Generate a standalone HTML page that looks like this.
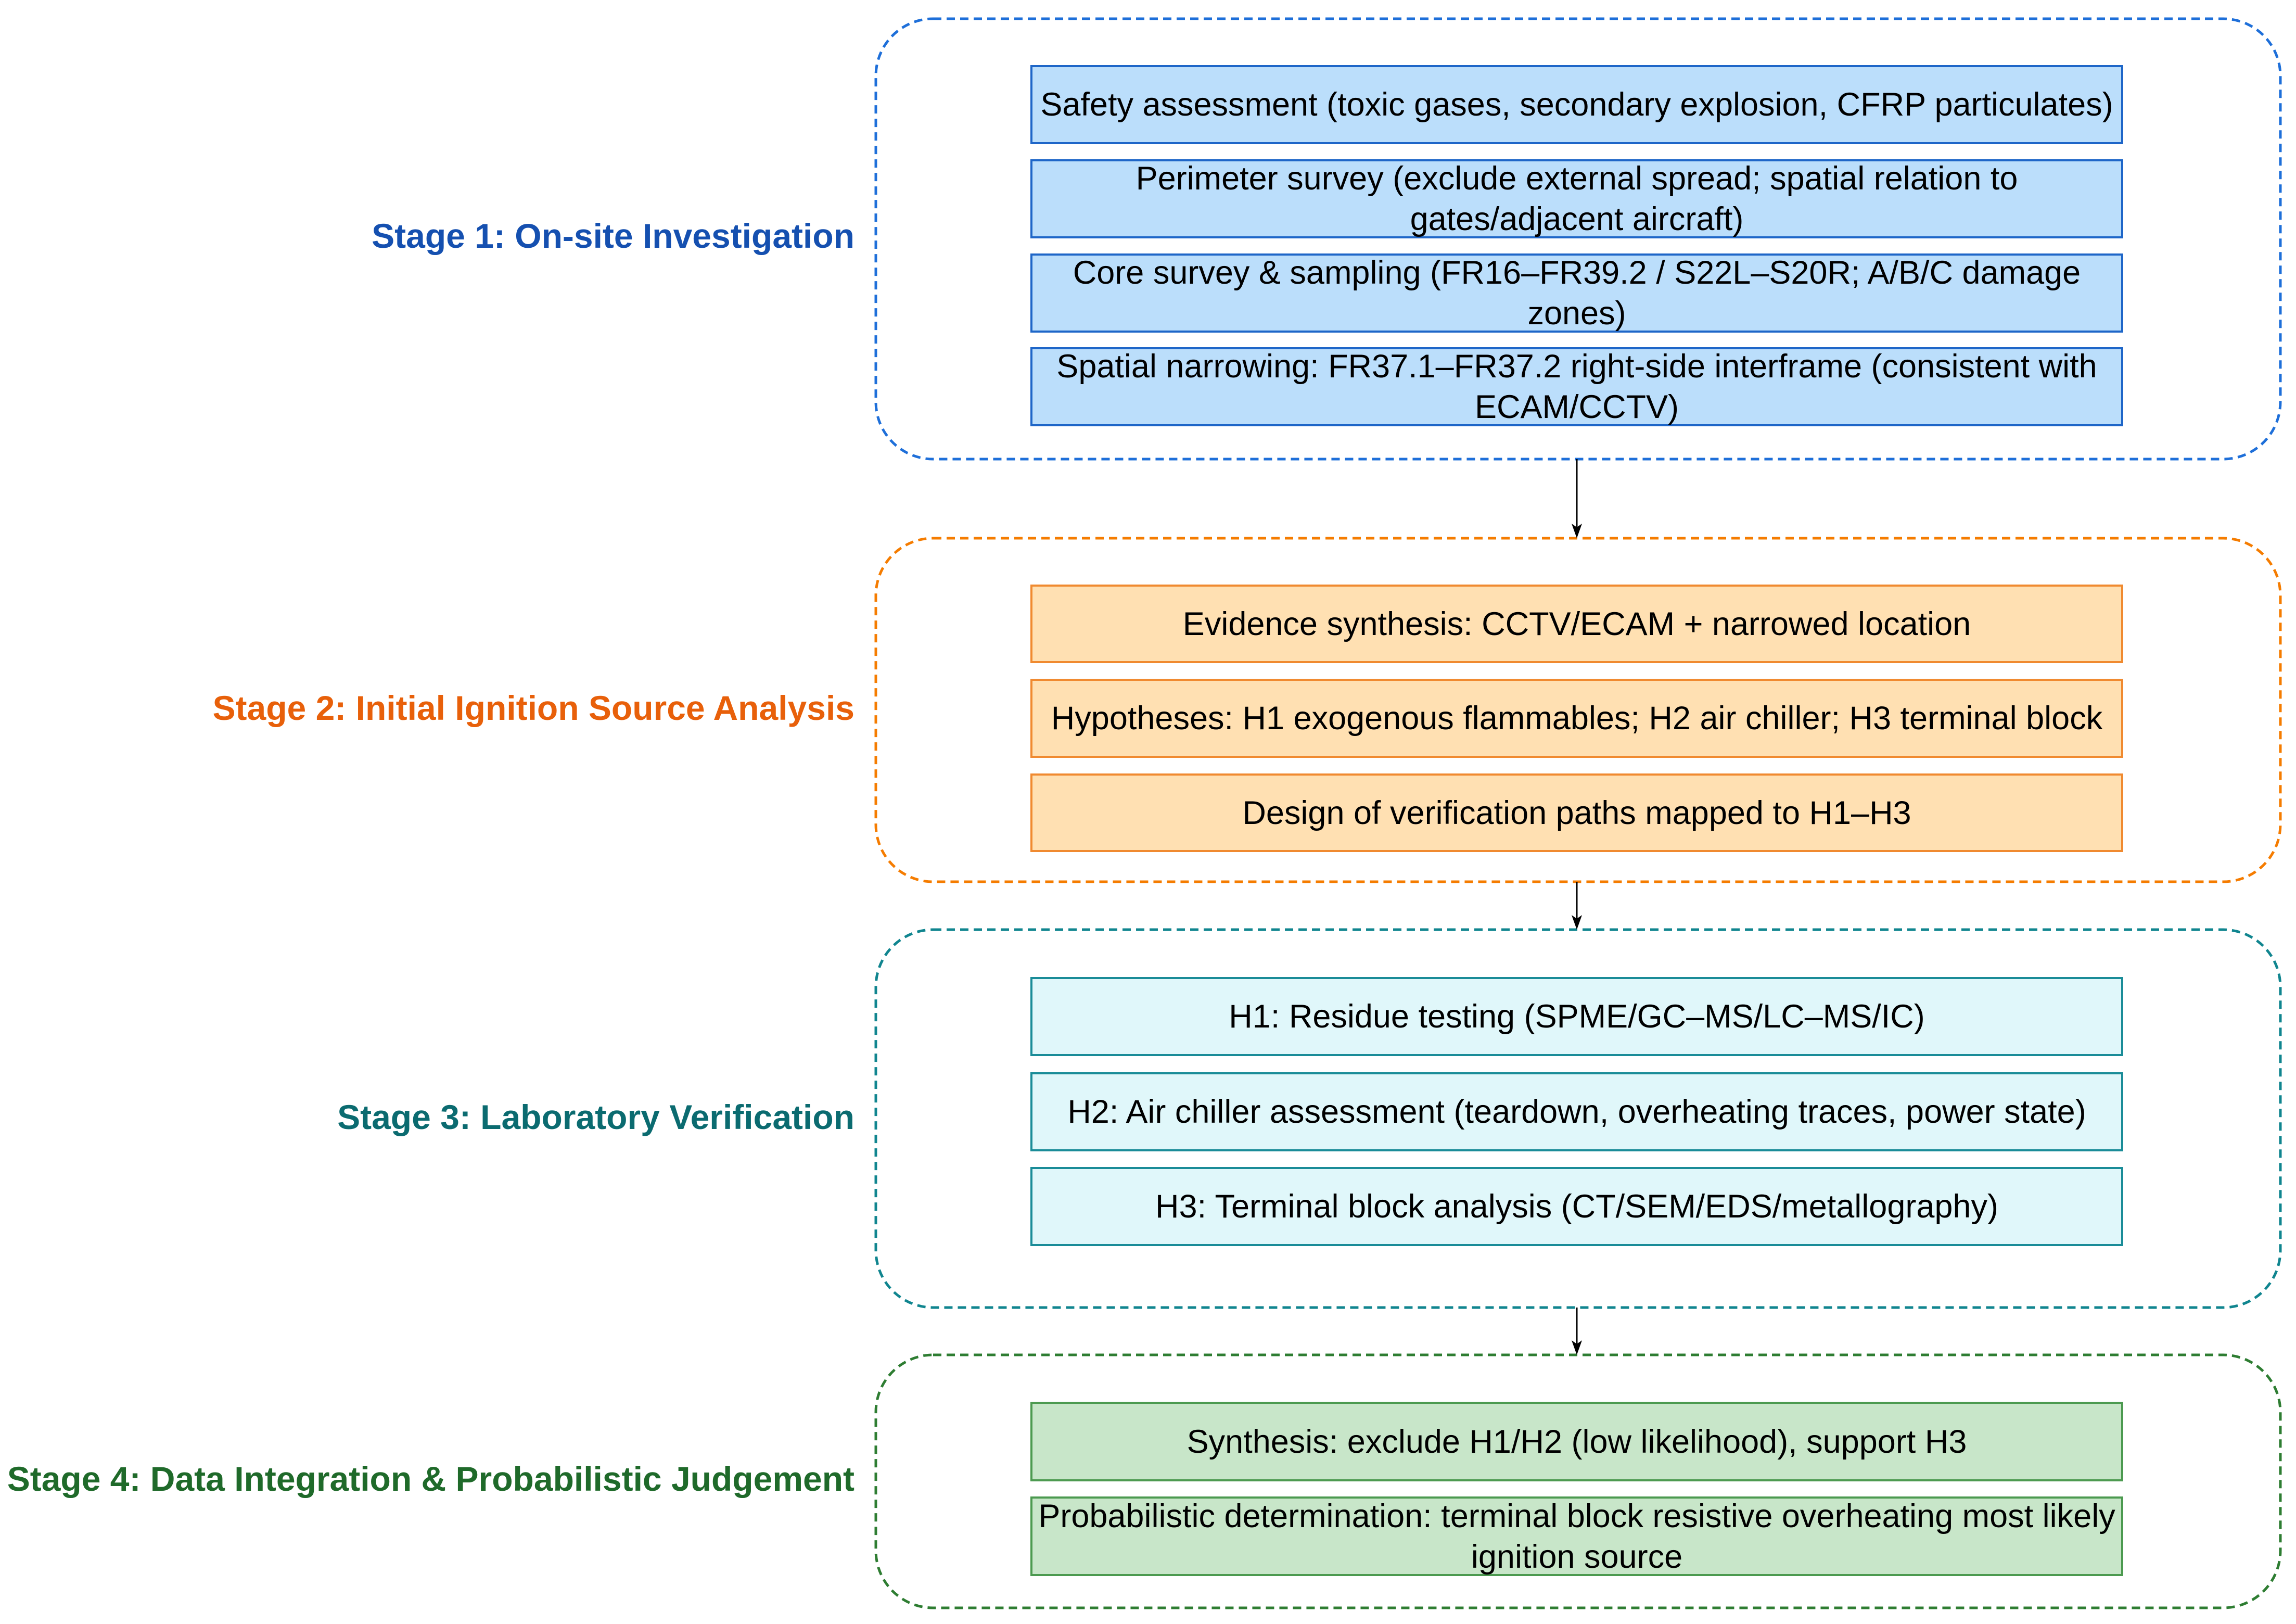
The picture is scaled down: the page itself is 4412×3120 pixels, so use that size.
<!DOCTYPE html>
<html><head><meta charset="utf-8"><style>
html,body{margin:0;padding:0;background:#fff;}
body{width:4412px;height:3120px;position:relative;overflow:hidden;font-family:"Liberation Sans",Arial,sans-serif;}
.lbl{position:absolute;right:2770px;font-weight:bold;font-size:66px;white-space:nowrap;transform:translateY(-50%);}
.box{position:absolute;left:1980px;width:2100px;display:flex;align-items:center;justify-content:center;text-align:center;font-size:63px;line-height:78px;color:#000;box-sizing:border-box;padding:0 8px;}
.b{background:#bbdefb;border:4px solid #1e66c8;}
.o{background:#ffe0b2;border:4px solid #f08a30;}
.t{background:#e0f7fa;border:4px solid #1a8c98;}
.g{background:#c8e6c9;border:4px solid #4c9a50;}
svg{position:absolute;left:0;top:0;}
</style></head><body>
<svg width="4412" height="3120">
<g fill="none" stroke-width="5" stroke-dasharray="16 10">
<rect x="1683" y="36" width="2699" height="846" rx="110" stroke="#1e6fd9"/>
<rect x="1683" y="1034" width="2699" height="660" rx="110" stroke="#f57c00"/>
<rect x="1683" y="1786" width="2699" height="726" rx="110" stroke="#10858f"/>
<rect x="1683" y="2603" width="2699" height="486" rx="110" stroke="#2e7d32"/>
</g>
<g stroke="#000" stroke-width="3">
<line x1="3030" y1="882" x2="3030" y2="1030"/>
<line x1="3030" y1="1694" x2="3030" y2="1782"/>
<line x1="3030" y1="2512" x2="3030" y2="2599"/>
</g>
<g fill="#000">
<path d="M3020,1006 L3030,1034 L3040,1006 L3030,1013z"/>
<path d="M3020,1758 L3030,1786 L3040,1758 L3030,1765z"/>
<path d="M3020,2575 L3030,2603 L3040,2575 L3030,2582z"/>
</g>
</svg>
<div class="lbl" style="top:453px;color:#1550b0">Stage 1: On-site Investigation</div>
<div class="lbl" style="top:1360px;color:#e8600a">Stage 2: Initial Ignition Source Analysis</div>
<div class="lbl" style="top:2146px;color:#0b6b70">Stage 3: Laboratory Verification</div>
<div class="lbl" style="top:2841px;color:#1f6a2a">Stage 4: Data Integration &amp; Probabilistic Judgement</div>

<div class="box b" style="top:125px;height:152px">Safety assessment (toxic gases, secondary explosion, CFRP particulates)</div>
<div class="box b" style="top:306px;height:152px">Perimeter survey (exclude external spread; spatial relation to<br>gates/adjacent aircraft)</div>
<div class="box b" style="top:487px;height:152px">Core survey &amp; sampling (FR16–FR39.2 / S22L–S20R; A/B/C damage<br>zones)</div>
<div class="box b" style="top:667px;height:152px">Spatial narrowing: FR37.1–FR37.2 right-side interframe (consistent with<br>ECAM/CCTV)</div>

<div class="box o" style="top:1123px;height:151px">Evidence synthesis: CCTV/ECAM + narrowed location</div>
<div class="box o" style="top:1304px;height:152px">Hypotheses: H1 exogenous flammables; H2 air chiller; H3 terminal block</div>
<div class="box o" style="top:1486px;height:151px">Design of verification paths mapped to H1–H3</div>

<div class="box t" style="top:1877px;height:152px">H1: Residue testing (SPME/GC–MS/LC–MS/IC)</div>
<div class="box t" style="top:2060px;height:152px">H2: Air chiller assessment (teardown, overheating traces, power state)</div>
<div class="box t" style="top:2242px;height:152px">H3: Terminal block analysis (CT/SEM/EDS/metallography)</div>

<div class="box g" style="top:2693px;height:153px">Synthesis: exclude H1/H2 (low likelihood), support H3</div>
<div class="box g" style="top:2875px;height:153px">Probabilistic determination: terminal block resistive overheating most likely<br>ignition source</div>
</body></html>
